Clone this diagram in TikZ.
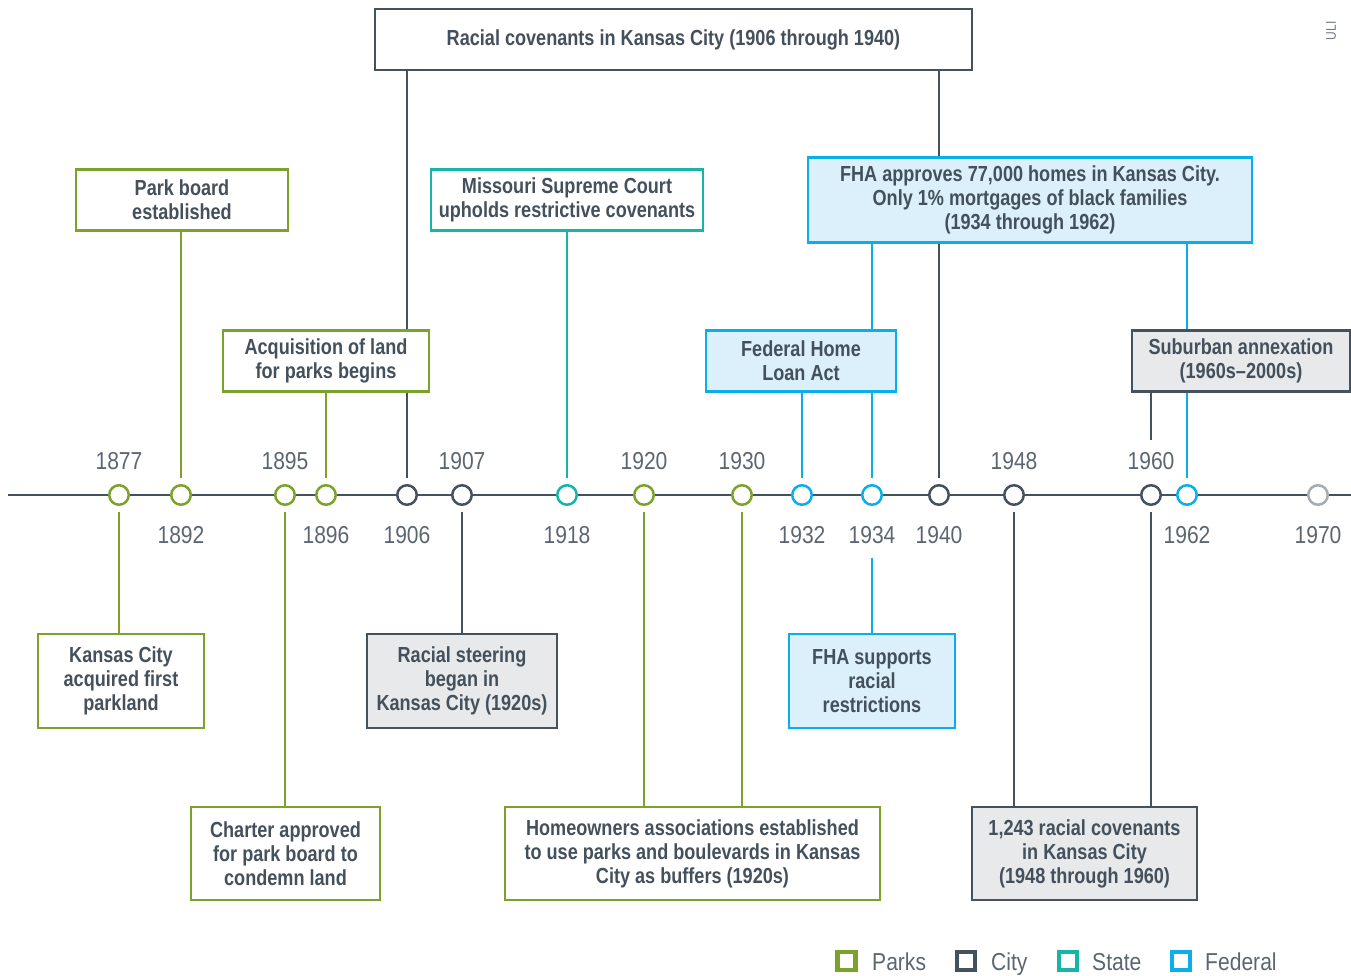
\documentclass[tikz,border=0pt]{standalone}
\usepackage{fontspec}
\setmainfont{Liberation Sans}
\newfontfamily\boxfont[FakeStretch=0.83,Ligatures=TeX]{Liberation Sans}
\newfontfamily\yearfont[FakeStretch=0.86,Ligatures=TeX]{Liberation Sans}
\definecolor{parkc}{HTML}{7BA32B}
\definecolor{cityc}{HTML}{44525E}
\definecolor{statec}{HTML}{17B5A7}
\definecolor{fedc}{HTML}{0AAEEA}
\definecolor{fedfill}{HTML}{DCF0FB}
\definecolor{cityfill}{HTML}{E7E9EB}
\definecolor{textc}{HTML}{44505B}
\definecolor{yearc}{HTML}{5B6670}
\definecolor{greyc}{HTML}{A5ACB2}
\definecolor{ulic}{HTML}{6F7A83}
\tikzset{
  evbox/.style={rectangle, draw, line width=2.5pt, align=center, inner sep=2pt,
    font={\boxfont\bfseries\fontsize{21.8}{24}\selectfont}, text=textc},
  pbox/.style={evbox, draw=parkc, fill=white},
  cbox/.style={evbox, draw=cityc, fill=cityfill},
  cboxw/.style={evbox, draw=cityc, fill=white},
  sbox/.style={evbox, draw=statec, fill=white},
  fbox/.style={evbox, draw=fedc, fill=fedfill},
  dot/.style={circle, line width=2.5pt, fill=white, minimum size=19.5pt, inner sep=0pt},
  yr/.style={font={\yearfont\fontsize{24.5}{28}\selectfont}, text=yearc, inner sep=0pt},
  pl/.style={draw=parkc, line width=2.5pt},
  cl/.style={draw=cityc, line width=2.5pt},
  sl/.style={draw=statec, line width=2.5pt},
  fl/.style={draw=fedc, line width=2.5pt},
  lsq/.style={rectangle, line width=4.5pt, fill=white, minimum size=18pt, inner sep=0pt},
  lgt/.style={font={\yearfont\fontsize{24.5}{28}\selectfont}, text=yearc, inner sep=0pt, anchor=base west},
}
\begin{document}
\begin{tikzpicture}[x=1pt, y=-1pt]
\useasboundingbox (0,0) rectangle (1351,976);
% axis
\coordinate (axL) at (8,495);
\coordinate (axR) at (1351,495);
\draw[cl] (axL) -- (axR);
% dots
\node[dot, draw=parkc] (d1877) at (119,495) {};
\node[dot, draw=parkc] (d1892) at (181,495) {};
\node[dot, draw=parkc] (d1895) at (285,495) {};
\node[dot, draw=parkc] (d1896) at (326,495) {};
\node[dot, draw=cityc] (d1906) at (407,495) {};
\node[dot, draw=cityc] (d1907) at (462,495) {};
\node[dot, draw=statec] (d1918) at (567,495) {};
\node[dot, draw=parkc] (d1920) at (644,495) {};
\node[dot, draw=parkc] (d1930) at (742,495) {};
\node[dot, draw=fedc] (d1932) at (802,495) {};
\node[dot, draw=fedc] (d1934) at (872,495) {};
\node[dot, draw=cityc] (d1940) at (939,495) {};
\node[dot, draw=cityc] (d1948) at (1014,495) {};
\node[dot, draw=cityc] (d1960) at (1151,495) {};
\node[dot, draw=fedc] (d1962) at (1187,495) {};
\node[dot, draw=greyc] (d1970) at (1318,495) {};
% year labels
\node[yr] (y1877) at (119,461) {1877};
\node[yr] (y1895) at (285,461) {1895};
\node[yr] (y1907) at (462,461) {1907};
\node[yr] (y1920) at (644,461) {1920};
\node[yr] (y1930) at (742,461) {1930};
\node[yr] (y1948) at (1014,461) {1948};
\node[yr] (y1960) at (1151,461) {1960};
\node[yr] (y1892) at (181,535) {1892};
\node[yr] (y1896) at (326,535) {1896};
\node[yr] (y1906) at (407,535) {1906};
\node[yr] (y1918) at (567,535) {1918};
\node[yr] (y1932) at (802,535) {1932};
\node[yr] (y1934) at (872,535) {1934};
\node[yr] (y1940) at (939,535) {1940};
\node[yr] (y1962) at (1187,535) {1962};
\node[yr] (y1970) at (1318,535) {1970};
% boxes
\node[cboxw, minimum width=597, minimum height=61] (cov) at (673.5,39.5) {\raisebox{-2pt}{Racial covenants in Kansas City (1906 through 1940)}};
\node[pbox, minimum width=212, minimum height=61] (park) at (182,200) {Park board\\established};
\node[pbox, minimum width=206, minimum height=61] (acq) at (326,361) {Acquisition of land\\for parks begins};
\node[sbox, minimum width=272, minimum height=61] (msc) at (567,200) {Missouri Supreme Court\\upholds restrictive covenants};
\node[fbox, minimum width=444, minimum height=85] (fha) at (1030,200) {FHA approves 77,000 homes in Kansas City.\\Only 1\% mortgages of black families\\(1934 through 1962)};
\node[fbox, minimum width=190, minimum height=61] (fhla) at (801,361) {Federal Home\\Loan Act};
\node[pbox, minimum width=166, minimum height=94] (kcp) at (121,681) {Kansas City\\acquired first\\parkland};
\node[pbox, minimum width=189, minimum height=93] (charter) at (285.5,853.5) {Charter approved\\for park board to\\condemn land};
\node[cbox, minimum width=190, minimum height=94] (steer) at (462,681) {Racial steering\\began in\\Kansas City (1920s)};
\node[pbox, minimum width=375, minimum height=93] (home) at (692.5,853.5) {Homeowners associations established\\to use parks and boulevards in Kansas\\City as buffers (1920s)};
\node[fbox, minimum width=166, minimum height=94] (fhas) at (872,681) {FHA supports\\racial\\restrictions};
\node[cbox, minimum width=225, minimum height=93] (r1243) at (1084.5,853.5) {1,243 racial covenants\\in Kansas City\\(1948 through 1960)};
% connectors above axis
\draw[pl, shorten >=6pt] (park.south -| d1892) -- (d1892.north);
\draw[pl, shorten >=6pt] (acq.south -| d1896) -- (d1896.north);
\draw[sl, shorten >=6pt] (msc.south -| d1918) -- (d1918.north);
\draw[cl] (cov.south -| d1906) -- (acq.north -| d1906);
\draw[cl, shorten >=6pt] (acq.south -| d1906) -- (d1906.north);
\draw[cl] (cov.south -| d1940) -- (fha.north -| d1940);
\draw[cl, shorten >=6pt] (fha.south -| d1940) -- (d1940.north);
\draw[fl] (fha.south -| d1934) -- (fhla.north -| d1934);
\draw[fl, shorten >=6pt] (fhla.south -| d1934) -- (d1934.north);
\draw[fl, shorten >=6pt] (fhla.south -| d1932) -- (d1932.north);
\draw[fl, shorten >=6pt] (fha.south -| d1962) -- (d1962.north);
% connectors below axis
\draw[pl, shorten <=6pt] (d1877.south) -- (kcp.north -| d1877);
\draw[pl, shorten <=6pt] (d1895.south) -- (charter.north -| d1895);
\draw[cl, shorten <=6pt] (d1907.south) -- (steer.north -| d1907);
\draw[pl, shorten <=6pt] (d1920.south) -- (home.north -| d1920);
\draw[pl, shorten <=6pt] (d1930.south) -- (home.north -| d1930);
\draw[fl, shorten <=14pt] (y1934.south) -- (fhas.north -| d1934);
\draw[cl, shorten <=6pt] (d1948.south) -- (r1243.north -| d1948);
\draw[cl, shorten <=6pt] (d1960.south) -- (r1243.north -| d1960);
% suburban annexation box drawn over the 1962 line
\node[cbox, minimum width=218, minimum height=61] (sub) at (1241,361) {Suburban annexation\\(1960s–2000s)};
\draw[cl, shorten >=12pt] (sub.south -| d1960) -- (y1960.north);
% legend
\node[lsq, draw=parkc] (lgp) at (846.5,961) {};
\node[lgt] (lgpt) at (872,970) {Parks};
\node[lsq, draw=cityc] (lgc) at (966,961) {};
\node[lgt] (lgct) at (991,970) {City};
\node[lsq, draw=statec] (lgs) at (1068,961) {};
\node[lgt] (lgst) at (1092,970) {State};
\node[lsq, draw=fedc] (lgf) at (1181,961) {};
\node[lgt] (lgft) at (1205,970) {Federal};
% logo
\node[font={\yearfont\fontsize{14}{16}\selectfont}, text=ulic, rotate=90, inner sep=0pt] (uli) at (1331,31) {ULI};
\end{tikzpicture}
\end{document}
